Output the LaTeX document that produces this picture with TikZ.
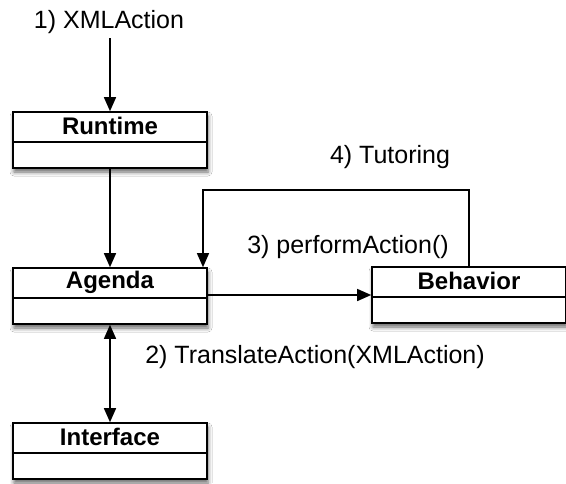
\documentclass[tikz,border=0pt]{standalone}
\usepackage{fontspec}
\setmainfont{Liberation Sans}
\usetikzlibrary{arrows.meta,shadows.blur}
\tikzset{
  umlbox/.style={draw=black, line width=1.6pt, fill=white, minimum width=194pt, minimum height=56pt, inner sep=0pt,
    blur shadow={shadow xshift=1pt, shadow yshift=-4pt, shadow blur radius=4pt, shadow opacity=60},
    path picture={\draw[line width=1.4pt] ([yshift=-30pt]path picture bounding box.north west) -- ([yshift=-30pt]path picture bounding box.north east);},
    label={[anchor=center, yshift=-15pt, font=\fontsize{24}{27}\selectfont\bfseries]north:#1}},
  lbl/.style={font=\fontsize{25}{29}\selectfont, inner sep=0pt},
  arr/.style={line width=1.4pt, -{Triangle[length=14pt,width=12pt]}},
  dblarr/.style={line width=1.4pt, {Triangle[length=14pt,width=12pt]}-{Triangle[length=14pt,width=12pt]}}
}
\begin{document}
\begin{tikzpicture}[x=1pt, y=-1pt]
\useasboundingbox[fill=white] (0,0) rectangle (566,483);
\node[umlbox=Runtime] (runtime) at (110,140) {};
\node[umlbox=Agenda] (agenda) at (110,296) {};
\node[umlbox=Interface] (interface) at (110,451) {};
\node[umlbox=Behavior] (behavior) at (469,295) {};
\node[lbl] (xml) at (109,22) {1) XMLAction};
\node[lbl] (tutlbl) at (390,157) {4) Tutoring};
\node[lbl] (perflbl) at (348,247) {3) performAction()};
\node[lbl] (translbl) at (315,357) {2) TranslateAction(XMLAction)};
\coordinate (tutcorner) at (203,190);
\coordinate (xmlstart) at (110,38);
\draw[arr] (xmlstart) -- (runtime.north);
\draw[arr] (runtime.south) -- (agenda.north);
\draw[arr] (agenda.east |- behavior.west) -- (behavior.west);
\draw[dblarr] (agenda.south) -- (interface.north);
\draw[line width=1.2pt, -{Triangle[length=14pt,width=12pt]}] (behavior.north) |- (tutcorner) -- (tutcorner |- agenda.north);
\end{tikzpicture}
\end{document}
